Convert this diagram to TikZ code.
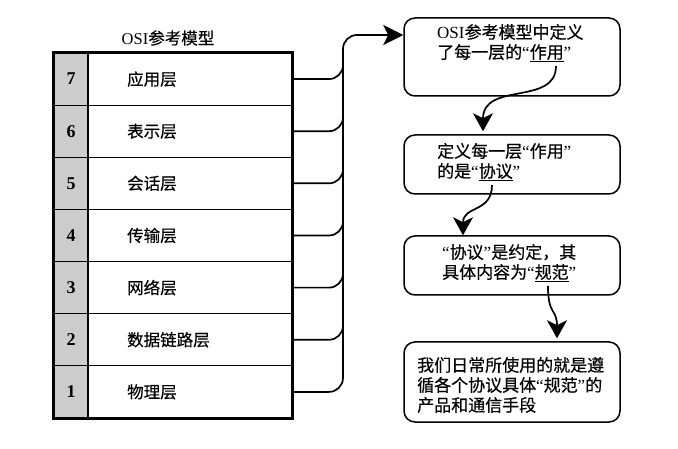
\documentclass[tikz,border=0pt]{standalone}
\usepackage{fontspec}
\setmainfont{Liberation Serif}
\newfontfamily\cjk[FakeBold=0.4]{Noto Sans CJK SC}
\usetikzlibrary{arrows.meta}
\newcommand\myqo{{\rmfamily “}}
\newcommand\myqc{{\rmfamily ”}}
\begin{document}
\begin{tikzpicture}[x=1pt,y=-1pt,
  numcell/.style={draw, line width=1.1pt, fill=black!20, minimum width=34pt, minimum height=52.14pt, inner sep=0pt, font=\fontsize{18}{20}\selectfont\bfseries},
  namecell/.style={draw, line width=1.1pt, minimum width=204pt, minimum height=52.14pt, inner sep=0pt},
  layertxt/.style={anchor=west, inner sep=0pt, font=\fontsize{16.5}{20}\selectfont\cjk},
  conn/.style={line width=1.7pt, rounded corners=14pt},
  infobox/.style={draw, line width=1.5pt, rounded corners=11pt, minimum width=216pt, inner sep=0pt},
  infotxt/.style={align=left, inner sep=0pt, anchor=west, font=\fontsize{17}{20}\selectfont\cjk},
  flow/.style={line width=1.7pt, -{Stealth[length=18pt,width=20pt,inset=5pt]}}
]
\useasboundingbox (0,0) rectangle (678,449);

\node[font=\fontsize{16.5}{20}\selectfont] (title) at (168,38) {OSI{\cjk 参考模型}};

\foreach \k/\nm in {7/应用层,6/表示层,5/会话层,4/传输层,3/网络层,2/数据链路层,1/物理层}{
  \pgfmathsetmacro\my{53+52.14*(7-\k+0.5)}
  \node[numcell] (n\k) at (71,\my) {\k};
  \node[namecell] (r\k) at (190,\my) {};
  \node[layertxt] (l\k) at (127,\my) {\nm};
}
\draw[line width=2pt] (n7.north west) rectangle (r1.south east);

% right boxes
\node[infobox, minimum height=78pt] (b1) at (512,57) {};
\node[infobox, minimum height=59pt] (b2) at (512,164.5) {};
\node[infobox, minimum height=59pt] (b3) at (512,265.5) {};
\node[infobox, minimum height=80pt] (b4) at (512,382) {};

\node[infotxt] (t1) at (437,43) {{\rmfamily OSI}参考模型中定义\\了每一层的\myqo\underline{作用}\myqc};
\node[infotxt] (t2) at (437,162) {定义每一层\myqo 作用\myqc\\的是\myqo\underline{协议}\myqc};
\node[infotxt] (t3) at (442,263) {\myqo 协议\myqc 是约定，其\\具体内容为\myqo\underline{规范}\myqc};
\node[infotxt] (t4) at (417,385) {我们日常所使用的就是遵\\循各个协议具体\myqo 规范\myqc 的\\产品和通信手段};

% bus connectors
\coordinate (bustop) at (343,35);
\coordinate (busend) at (343,55);
\coordinate (tgt) at (b1.west |- bustop);
\draw[conn, -{Stealth[length=20pt,width=20pt,inset=5pt]}] (r1.east) -- (r1.east -| bustop) -- (bustop) -- (tgt);
\foreach \k in {2,...,7}{
  \draw[conn] (r\k.east) -- (r\k.east -| bustop) -- (busend);
}

% flow arrows
\coordinate (s1) at (556,66);
\coordinate (s2) at (492,185);
\coordinate (s3) at (548,286);
\draw[flow] (s1) .. controls +(0,40) and +(0,-50) .. ([xshift=-29pt,yshift=3pt]b2.north);
\draw[flow] (s2) .. controls +(0,28) and +(0,-30) .. ([xshift=-49pt]b3.north);
\draw[flow] (s3) .. controls +(0,30) and +(0,-30) .. ([xshift=45pt,yshift=3pt]b4.north);
\end{tikzpicture}
\end{document}
